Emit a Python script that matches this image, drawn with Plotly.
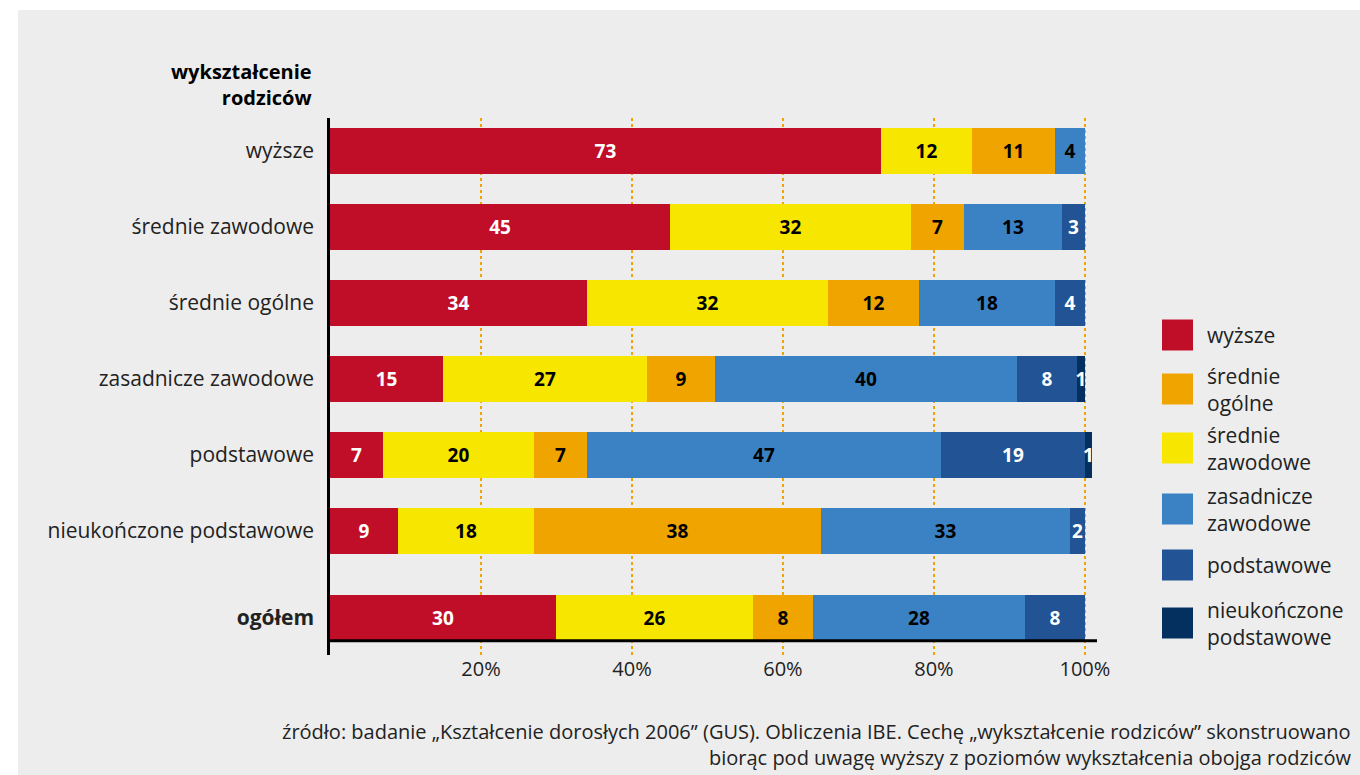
import plotly.graph_objects as go

# Parental education (rows) and respondent's education split (segments), %
rows = ["wyższe", "średnie zawodowe", "średnie ogólne", "zasadnicze zawodowe",
        "podstawowe", "nieukończone podstawowe", "ogółem"]

seg_names = ["wyższe", "średnie zawodowe", "średnie ogólne",
             "zasadnicze zawodowe", "podstawowe", "nieukończone podstawowe"]
seg_colors = ["#c00d28", "#f7e600", "#f0a400", "#3b82c4", "#215395", "#04305f"]
seg_text_colors = ["white", "black", "black", "black", "white", "white"]

wyzsze =               [73, 45, 34, 15, 7, 9, 30]
srednie_zawodowe =     [12, 32, 32, 27, 20, 18, 26]
srednie_ogolne =       [11, 7, 12, 9, 7, 38, 8]
zasadnicze_zawodowe =  [4, 13, 18, 40, 47, 33, 28]
podstawowe =           [0, 3, 4, 8, 19, 2, 8]
nieukonczone =         [0, 0, 0, 1, 1, 0, 0]

series = [wyzsze, srednie_zawodowe, srednie_ogolne,
          zasadnicze_zawodowe, podstawowe, nieukonczone]

# Legend order and labels
legend_names = ["wyższe", "średnie<br>ogólne", "średnie<br>zawodowe",
                "zasadnicze<br>zawodowe", "podstawowe", "nieukończone<br>podstawowe"]
legend_colors = ["#c00d28", "#f0a400", "#f7e600", "#3b82c4", "#215395", "#04305f"]

x_ticks = [20, 40, 60, 80, 100]
x_tick_labels = ["20%", "40%", "60%", "80%", "100%"]

axis_heading = "wykształcenie<br>rodziców"
source_lines = [
    "źródło: badanie „Kształcenie dorosłych 2006” (GUS). Obliczenia IBE. "
    "Cechę „wykształcenie rodziców” skonstruowano",
    "biorąc pod uwagę wyższy z poziomów wykształcenia obojga rodziców",
]

FONT = "Open Sans"
TXT = "#222222"

# Row positions: the summary row is set a little apart from the others
ypos = [float(i) for i in range(len(rows) - 1)] + [len(rows) - 1 + 0.145]
y_lo, y_hi = -0.434, ypos[-1] + 0.487

fig = go.Figure()
for name, vals, col, tcol in zip(seg_names, series, seg_colors, seg_text_colors):
    fig.add_trace(go.Bar(
        y=ypos, x=[v if v else None for v in vals], orientation="h",
        name=name, marker=dict(color=col, line=dict(width=0)),
        text=[str(v) if v else "" for v in vals],
        textposition="inside", insidetextanchor="middle",
        textangle=0, constraintext="none",
        textfont=dict(family=FONT, size=19, color=tcol, weight="bold"),
        width=0.6, showlegend=False, hoverinfo="skip",
    ))

L, T, W, H = 330, 118, 767, 537
px = lambda p: (p - L) / W
py = lambda p: (T + H - p) / H

shapes = [
    # grey panel
    dict(type="rect", xref="paper", yref="paper", layer="below",
         x0=px(18), x1=px(1360), y0=py(775), y1=py(10),
         fillcolor="#ededed", line=dict(width=0)),
    # baseline under the bars
    dict(type="line", xref="paper", yref="y", x0=0, x1=1,
         y0=ypos[-1] + 0.3, y1=ypos[-1] + 0.3,
         line=dict(color="black", width=3)),
]

annotations = [
    # axis heading, bold, right-aligned over the category labels
    dict(text=f"<b>{axis_heading}</b>", xref="paper", yref="paper",
         x=px(314), y=py(85), xanchor="right", yanchor="middle", align="right",
         showarrow=False, font=dict(family=FONT, size=20, color="black")),
]

# Source note
for i, line in enumerate(source_lines):
    annotations.append(dict(text=line, xref="paper", yref="paper",
                            x=px(1353), y=py(731 + 26 * i), xanchor="right",
                            yanchor="middle", showarrow=False,
                            font=dict(family=FONT, size=20, color=TXT)))

# Legend drawn with large swatches
leg_y = [335, 389, 448, 509, 565, 623]
for name, col, cy in zip(legend_names, legend_colors, leg_y):
    shapes.append(dict(type="rect", xref="paper", yref="paper",
                       x0=px(1162), x1=px(1193), y0=py(cy + 15.5), y1=py(cy - 15.5),
                       fillcolor=col, line=dict(width=0)))
    annotations.append(dict(text=name, xref="paper", yref="paper",
                            x=px(1205), y=py(cy), xanchor="left",
                            yanchor="middle", align="left", showarrow=False,
                            font=dict(family=FONT, size=21, color=TXT)))

fig.update_layout(
    width=1360, height=775,
    margin=dict(l=L, r=1360 - L - W, t=T, b=775 - T - H),
    paper_bgcolor="white", plot_bgcolor="rgba(0,0,0,0)",
    barmode="stack", bargap=0,
    font=dict(family=FONT, color=TXT),
    shapes=shapes, annotations=annotations,
    xaxis=dict(range=[0, 101.6], tickvals=x_ticks, ticktext=x_tick_labels,
               showgrid=True, gridcolor="#f0a400", griddash="dot", gridwidth=2,
               zeroline=False, showline=False, ticks="",
               tickfont=dict(family=FONT, size=20, color=TXT),
               fixedrange=True),
    yaxis=dict(range=[y_hi, y_lo], tickvals=ypos,
               ticktext=rows[:-1] + ["<b>ogółem</b>"],
               showgrid=False, zeroline=False, showline=True,
               linecolor="black", linewidth=2.5, ticks="", ticklabelstandoff=9,
               tickfont=dict(family=FONT, size=21, color=TXT),
               fixedrange=True),
)

fig.write_html("out.html")
